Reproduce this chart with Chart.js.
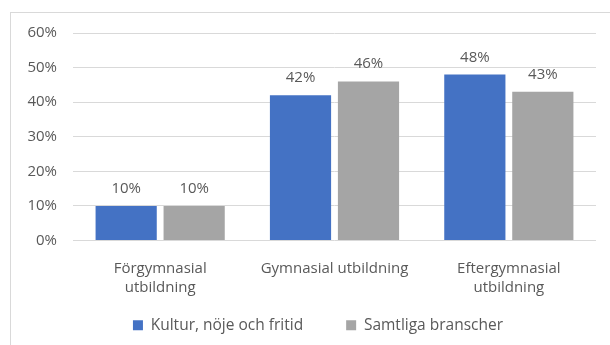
<!DOCTYPE html>
<html>
<head>
<meta charset="utf-8">
<script src="https://cdn.jsdelivr.net/npm/chart.js@4"></script>
<style>
  html, body { margin: 0; padding: 0; background: #fff; }
  #wrap { position: relative; width: 610px; height: 345px; overflow: hidden; }
  #frame { position: absolute; left: 10px; top: 12px; width: 640px; height: 360px; border: 1px solid #d9d9d9; }
  #c { position: absolute; left: 0; top: 0; }
</style>
</head>
<body>
<div id="wrap">
  <div id="frame"></div>
  <canvas id="c" width="610" height="345"></canvas>
</div>
<script>
// kategorier och serier
const kategorier = [["Förgymnasial", "utbildning"], "Gymnasial utbildning", ["Eftergymnasial", "utbildning"]];
const serieNamn = ["Kultur, nöje och fritid", "Samtliga branscher"];
const kultur = [10, 42, 48];
const samtliga = [10, 46, 43];
const yTicks = [0, 10, 20, 30, 40, 50, 60];

const textFarg = "#595959";
const fontFamilj = "'Open Sans', sans-serif";

// etiketter ovanför staplarna
const stapelEtiketter = {
    id: "stapelEtiketter",
    afterDatasetsDraw(chart) {
        const ctx = chart.ctx;
        ctx.save();
        ctx.fillStyle = textFarg;
        ctx.font = "15px " + fontFamilj;
        ctx.textAlign = "center";
        ctx.textBaseline = "alphabetic";
        chart.data.datasets.forEach((ds, i) => {
            chart.getDatasetMeta(i).data.forEach((bar, j) => {
                ctx.fillText(ds.data[j] + "%", bar.x, bar.y - 13);
            });
        });
        ctx.restore();
    }
};

// x-etiketterna får rita ner mot förklaringen utan att klippas,
// och förklaringen flyttas lite åt höger
const justeraLayout = {
    id: "justeraLayout",
    afterLayout(chart) {
        chart.scales.x.bottom = chart.height;
        chart.legend.left += 20;
        chart.legend.right += 20;
    }
};

new Chart(document.getElementById("c"), {
    type: "bar",
    data: {
        labels: kategorier,
        datasets: [
            { label: serieNamn[0], data: kultur, backgroundColor: "#4472c4" },
            { label: serieNamn[1], data: samtliga, backgroundColor: "#a5a5a5" }
        ]
    },
    options: {
        responsive: false,
        animation: false,
        categoryPercentage: 0.78,
        barPercentage: 0.9,
        layout: { padding: { top: 33, right: 14, left: 0, bottom: 2 } },
        plugins: {
            tooltip: { enabled: false },
            legend: {
                position: "bottom",
                labels: {
                    color: textFarg,
                    font: { family: fontFamilj, size: 15.5 },
                    boxWidth: 10,
                    boxHeight: 10,
                    padding: 43
                }
            }
        },
        scales: {
            x: {
                grid: { display: false },
                border: { display: false },
                ticks: {
                    color: textFarg,
                    font: { family: fontFamilj, size: 15, lineHeight: 1.3 },
                    padding: 10,
                    maxRotation: 0,
                    autoSkip: false
                },
                afterFit: (s) => { s.height = 34; }
            },
            y: {
                min: 0,
                max: 60,
                afterBuildTicks: (s) => { s.ticks = yTicks.map(v => ({ value: v })); },
                grid: { color: "#d9d9d9", drawTicks: false },
                border: { display: false },
                ticks: {
                    color: textFarg,
                    font: { family: fontFamilj, size: 15 },
                    padding: 16,
                    callback: (v) => v + "%"
                },
                afterFit: (s) => { s.width = 73; }
            }
        }
    },
    plugins: [stapelEtiketter, justeraLayout]
});
</script>
</body>
</html>
